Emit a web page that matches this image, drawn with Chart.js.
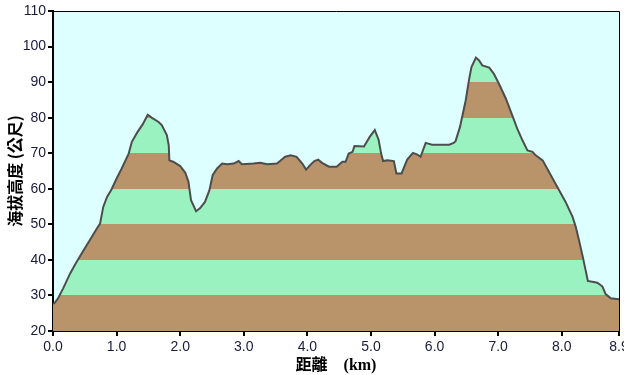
<!DOCTYPE html>
<html>
<head>
<meta charset="utf-8">
<script src="https://cdn.jsdelivr.net/npm/chart.js@4"></script>
<style>
  html, body { margin: 0; padding: 0; background: #fff; }
  #wrap { width: 624px; height: 375px; }
</style>
</head>
<body>
<div id="wrap"><canvas id="profile"></canvas></div>
<script>
// distance along route (km) and elevation (m)
const distanceKm = [
    0.00, 0.03, 0.08, 0.16, 0.27, 0.35, 0.45, 0.58, 0.69, 0.74,
    0.79, 0.85, 0.92, 1.00, 1.08, 1.19, 1.24, 1.33, 1.41, 1.49,
    1.55, 1.66, 1.71, 1.79, 1.82, 1.83, 1.89, 2.00, 2.08, 2.13,
    2.17, 2.25, 2.31, 2.39, 2.46, 2.51, 2.58, 2.66, 2.74, 2.84,
    2.92, 2.97, 3.15, 3.26, 3.37, 3.52, 3.57, 3.65, 3.74, 3.83,
    3.92, 3.98, 4.05, 4.11, 4.17, 4.23, 4.34, 4.46, 4.55, 4.60,
    4.65, 4.71, 4.74, 4.89, 4.98, 5.06, 5.12, 5.16, 5.19, 5.26,
    5.36, 5.40, 5.48, 5.57, 5.66, 5.73, 5.78, 5.86, 5.96, 6.23,
    6.30, 6.33, 6.40, 6.49, 6.54, 6.58, 6.65, 6.70, 6.75, 6.86,
    6.93, 7.01, 7.12, 7.22, 7.30, 7.38, 7.46, 7.54, 7.59, 7.70,
    7.80, 7.93, 8.06, 8.17, 8.22, 8.27, 8.33, 8.38, 8.41, 8.56,
    8.64, 8.69, 8.77, 8.90
];
const elevationM = [
    27.6, 28.0, 29.2, 32.0, 36.2, 38.8, 41.8, 45.6, 48.8, 50.2,
    54.9, 57.7, 59.8, 62.9, 65.7, 69.9, 73.2, 76.0, 78.1, 80.8,
    80.0, 78.8, 77.9, 75.1, 72.2, 68.0, 67.6, 66.4, 64.5, 62.0,
    56.8, 53.7, 54.5, 56.3, 59.6, 63.8, 65.7, 67.1, 66.9, 67.1,
    67.8, 66.9, 67.1, 67.3, 66.9, 67.1, 67.8, 69.0, 69.4, 69.0,
    67.1, 65.4, 66.8, 67.8, 68.2, 67.3, 66.2, 66.2, 67.6, 67.6,
    69.9, 70.4, 72.0, 71.9, 74.6, 76.5, 73.8, 69.9, 67.8, 68.0,
    67.8, 64.3, 64.3, 68.2, 70.1, 69.6, 69.0, 72.9, 72.4, 72.4,
    72.9, 73.4, 77.4, 84.9, 90.5, 94.2, 96.9, 96.1, 94.7, 94.1,
    92.4, 89.6, 85.4, 80.7, 76.9, 73.7, 70.8, 70.4, 69.4, 68.0,
    64.7, 60.5, 56.3, 52.1, 49.3, 45.6, 40.9, 36.7, 34.1, 33.6,
    32.5, 30.4, 29.2, 28.9
];
const xTicks = [0, 1, 2, 3, 4, 5, 6, 7, 8, 8.9];
const bandEdges = [20, 30, 40, 50, 60, 70, 80, 90, 100, 110];
const bandColors = ["#b9936a", "#9bf2c1"];

const tickFont = { family: "'Liberation Sans', Arial, sans-serif", size: 14 };
const titleFont = { family: "'Liberation Serif', 'Noto Sans CJK TC', serif", size: 16, weight: "bold" };

// alternating 10 m bands under the profile, as a hard-stop gradient
function bandFill(context) {
    const chart = context.chart;
    const y = chart.scales.y;
    if (!chart.chartArea || !y) return bandColors[0];
    const lo = y.getPixelForValue(bandEdges[0]);
    const hi = y.getPixelForValue(bandEdges[bandEdges.length - 1]);
    const g = chart.ctx.createLinearGradient(0, lo, 0, hi);
    const span = bandEdges[bandEdges.length - 1] - bandEdges[0];
    for (let i = 0; i < bandEdges.length - 1; i++) {
        const c = bandColors[i % 2];
        g.addColorStop((bandEdges[i] - bandEdges[0]) / span, c);
        g.addColorStop((bandEdges[i + 1] - bandEdges[0]) / span, c);
    }
    return g;
}

const plotFrame = {
    id: "plotFrame",
    beforeDraw(chart) {
        const { ctx, chartArea: a } = chart;
        ctx.save();
        ctx.fillStyle = "#ddffff";
        ctx.fillRect(a.left, a.top, a.right - a.left, a.bottom - a.top);
        ctx.restore();
    },
    afterDraw(chart) {
        const { ctx, chartArea: a } = chart;
        ctx.save();
        ctx.strokeStyle = "#000";
        ctx.lineWidth = 1;
        ctx.beginPath();
        ctx.moveTo(a.left, a.top + 0.5);
        ctx.lineTo(a.right + 0.5, a.top + 0.5);
        ctx.lineTo(a.right + 0.5, a.bottom);
        ctx.stroke();
        ctx.restore();
    }
};

new Chart(document.getElementById("profile"), {
    type: "line",
    data: {
        datasets: [{
            data: distanceKm.map((d, i) => ({ x: d, y: elevationM[i] })),
            borderColor: "#4d4d4d",
            borderWidth: 2,
            backgroundColor: bandFill,
            fill: "start",
            pointRadius: 0,
            tension: 0
        }]
    },
    options: {
        responsive: true,
        maintainAspectRatio: false,
        animation: false,
        layout: { padding: { top: 11, right: 5, left: 0, bottom: 0 } },
        plugins: {
            legend: { display: false },
            tooltip: { enabled: false }
        },
        scales: {
            x: {
                type: "linear",
                min: 0,
                max: 8.9,
                afterBuildTicks: (scale) => { scale.ticks = xTicks.map((v) => ({ value: v })); },
                afterFit: (scale) => {
                    scale.height = 44;
                    scale.paddingLeft = 0;
                    scale.paddingRight = 0;
                },
                border: { display: true, color: "#000", width: 2 },
                grid: { drawOnChartArea: false, color: "#000", lineWidth: 2, tickLength: 5 },
                ticks: {
                    color: "#1a1a3a",
                    font: tickFont,
                    padding: 3,
                    maxRotation: 0,
                    autoSkip: false,
                    callback: (v) => v.toFixed(1)
                },
                title: { display: true, text: "距離\u3000(km)", color: "#000", font: titleFont, padding: { top: 0, bottom: 0 } }
            },
            y: {
                min: 20,
                max: 110,
                afterFit: (scale) => {
                    scale.width = 53;
                    scale.paddingTop = 0;
                    scale.paddingBottom = 0;
                },
                border: { display: true, color: "#000", width: 2 },
                grid: { drawOnChartArea: false, color: "#000", lineWidth: 2, tickLength: 5 },
                ticks: { stepSize: 10, color: "#1a1a3a", font: tickFont, padding: 2 },
                title: { display: true, text: "海拔高度 (公尺)", color: "#000", font: { family: "'Noto Sans CJK TC', sans-serif", size: 16, weight: "bold" }, padding: { top: 5, bottom: 0 } }
            }
        }
    },
    plugins: [plotFrame]
});
</script>
</body>
</html>
